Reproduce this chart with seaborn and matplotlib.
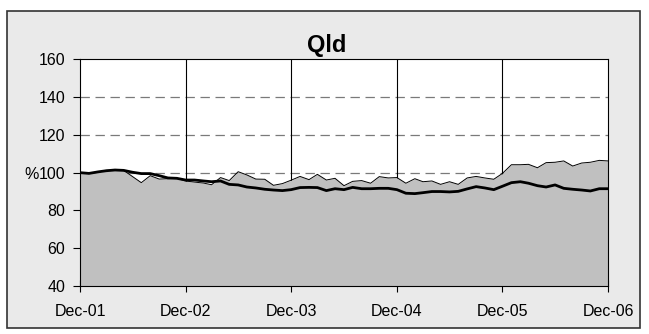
import pandas as pd
import matplotlib
matplotlib.use("Agg")
import matplotlib.pyplot as plt
import matplotlib.dates as mdates
from matplotlib.patches import Rectangle
import seaborn as sns

# monthly series, Dec-01 to Dec-06
months = pd.date_range("2001-12-01", periods=61, freq="MS")
area_vals = [100, 99.5, 100.2, 101.2, 101.4, 101.2, 97.9, 94.7, 98.4, 96.6, 96.8, 97,
             95.6, 95, 94.5, 93.6, 97.4, 95.8, 100.5, 98.8, 96.6, 96.5, 93.3, 94.2,
             96, 98, 96.3, 99.1, 96.1, 97, 93.1, 95.4, 95.8, 94.4, 97.9, 97.2,
             97.4, 94.4, 96.8, 95.2, 95.6, 93.8, 95.2, 93.8, 97.2, 98, 97.2, 96.5,
             99.6, 104.2, 104.2, 104.4, 102.6, 105.3, 105.5, 106.2, 103.5, 105.1, 105.5, 106.5,
             106.2]
line_vals = [100, 99.6, 100.4, 101, 101.4, 101.2, 100.2, 99.5, 99.5, 98.4, 97.2, 97,
             96.1, 96.1, 95.6, 95.2, 95.6, 93.8, 93.5, 92.4, 91.9, 91.2, 90.8, 90.5,
             91, 92.1, 92.2, 92.1, 90.5, 91.5, 91, 92.2, 91.5, 91.5, 91.7, 91.7,
             91, 89.1, 88.9, 89.4, 90, 90, 89.8, 90.1, 91.4, 92.6, 91.9, 91,
             92.8, 94.7, 95.2, 94.4, 93.1, 92.4, 93.5, 91.7, 91.2, 90.8, 90.3, 91.5,
             91.5]
title = "Qld"
y_ticks = [40, 60, 80, 100, 120, 140, 160]

df = pd.DataFrame({"month": months, "area": area_vals, "line": line_vals})

sns.set_theme(style="white")
plt.rcParams["font.family"] = ["Liberation Sans", "DejaVu Sans"]
plt.rcParams["text.color"] = "black"

fig = plt.figure(figsize=(6.49, 3.34), dpi=100)
fig.patch.set_facecolor("white")
# grey panel with a dark frame, behind the axes
fig.patches.append(Rectangle((7 / 649, 1 - 328 / 334), 633 / 649, 317 / 334,
                             transform=fig.transFigure, facecolor="#eaeaea",
                             edgecolor="#333333", linewidth=1.2, zorder=-10))

ax = fig.add_axes([80 / 649, 1 - 286 / 334, 528 / 649, 226.7 / 334])
ax.set_zorder(1)
ax.set_facecolor("white")

# grid behind the fill
for yv in [100, 120, 140]:
    ax.axhline(yv, color="#7a7a7a", linestyle=(0, (7.5, 4.5)), linewidth=0.9, zorder=1)
for d in pd.to_datetime(["2002-12-01", "2003-12-01", "2004-12-01", "2005-12-01"]):
    ax.axvline(d, color="black", linewidth=0.8, zorder=1)

ax.fill_between(df["month"], 40, df["area"], color="#c0c0c0", linewidth=0, zorder=2)
sns.lineplot(data=df, x="month", y="area", color="black", linewidth=0.7, ax=ax, zorder=3)
sns.lineplot(data=df, x="month", y="line", color="black", linewidth=2.0, ax=ax, zorder=4)

ax.set_xlim(months[0], months[-1])
ax.set_ylim(40, 160)
ax.set_yticks(y_ticks)
ax.set_xticks(pd.to_datetime(["2001-12-01", "2002-12-01", "2003-12-01",
                              "2004-12-01", "2005-12-01", "2006-12-01"]))
ax.xaxis.set_major_formatter(mdates.DateFormatter("%b-%y"))
ax.tick_params(axis="x", direction="inout", length=8, width=0.8, colors="black",
               labelsize=11.5, pad=9)
ax.tick_params(axis="y", direction="out", length=5, width=0.8, colors="black",
               labelsize=11.5, pad=5.5)
ax.tick_params(left=True, bottom=True)

ax.set_xlabel("")
ax.set_ylabel("%", rotation=0, fontsize=11.5, color="black",
              va="center_baseline", ha="right")
ax.yaxis.set_label_coords(-0.079, 0.5)
ax.set_title(title, fontsize=17, fontweight="bold", color="black", pad=5, x=0.468)

for s in ax.spines.values():
    s.set_color("black")
    s.set_linewidth(0.8)

fig.savefig("out.png", dpi=100)
